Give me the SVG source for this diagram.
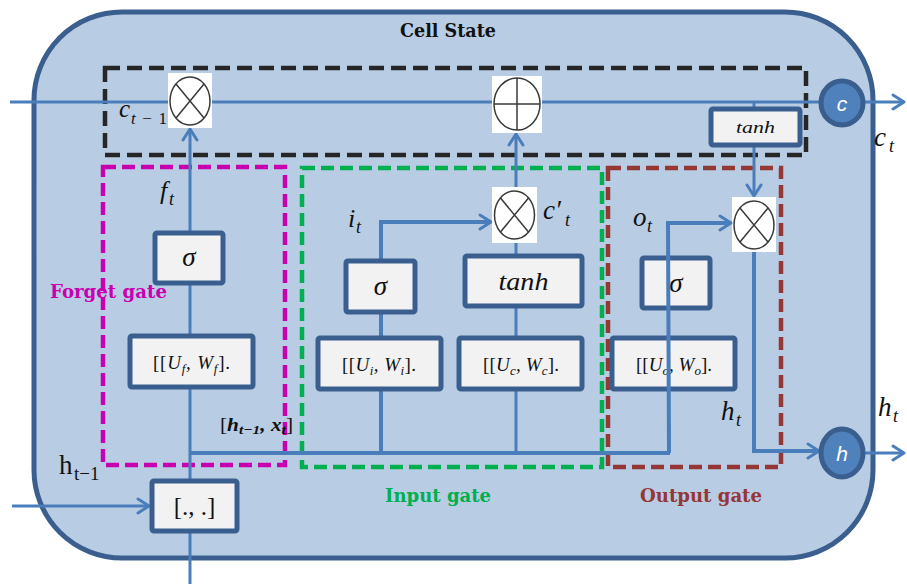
<svg xmlns="http://www.w3.org/2000/svg" width="907" height="584" viewBox="0 0 907 584">
  <style>
    .wire { fill: none; stroke: #4A7EBB; stroke-width: 3; }
    .thick { stroke-width: 4; }
    .box { fill: #F2F2F2; stroke: #3A5F8F; stroke-width: 5; }
    .opbg { fill: #FFFFFF; }
    .op { fill: none; stroke: #3A3A3A; stroke-width: 1.5; }
    .math { font-family: "Liberation Serif", "DejaVu Serif", serif; font-style: italic; fill: #111; }
    .up { font-style: normal; }
    .lbl { font-family: "DejaVu Serif", "Liberation Serif", serif; font-weight: bold; }
    .node { fill: #4F81BD; stroke: #3A5F8F; stroke-width: 5; }
    .dash { fill: none; stroke-width: 4.5; }
  </style>
  <defs>
    <marker id="arrow" markerUnits="userSpaceOnUse" markerWidth="16" markerHeight="18" viewBox="0 0 16 18" refX="13" refY="9" orient="auto">
      <path d="M2,2 L13,9 L2,16" fill="none" stroke="#4A7EBB" stroke-width="3" stroke-linecap="round" stroke-linejoin="round"/>
    </marker>
  </defs>

  <!-- LSTM cell body -->
  <g id="cell">
    <rect x="34" y="12" width="839" height="546" rx="88" ry="88" fill="#B8CCE4" stroke="#3A5F8F" stroke-width="5"/>
    <text class="lbl" x="448" y="37" font-size="19" text-anchor="middle" textLength="96" lengthAdjust="spacingAndGlyphs" fill="#111">Cell State</text>
  </g>

  <!-- gate regions -->
  <g id="cell-state-region">
    <rect class="dash" x="105" y="68" width="701" height="87" stroke="#262626" stroke-dasharray="15 7"/>
  </g>
  <g id="forget-gate">
    <rect class="dash" x="103" y="167" width="182" height="298" stroke="#C800B0" stroke-dasharray="13 6"/>
    <text class="lbl" x="50" y="298" font-size="18" textLength="117" lengthAdjust="spacingAndGlyphs" fill="#C800B0">Forget gate</text>
  </g>
  <g id="input-gate">
    <rect class="dash" x="302" y="168" width="300" height="299" stroke="#00B050" stroke-dasharray="13 6"/>
    <text class="lbl" x="385" y="502" font-size="18" textLength="106" lengthAdjust="spacingAndGlyphs" fill="#00B050">Input gate</text>
  </g>
  <g id="output-gate">
    <rect class="dash" x="608" y="168" width="173" height="299" stroke="#953735" stroke-dasharray="13 6"/>
    <text class="lbl" x="640" y="502" font-size="18" textLength="122" lengthAdjust="spacingAndGlyphs" fill="#953735">Output gate</text>
  </g>

  <!-- connectors behind the blocks -->
  <g id="connectors">
    <!-- cell state line -->
    <line class="wire" x1="10" y1="102" x2="822" y2="102"/>
    <line class="wire" x1="864" y1="102" x2="904" y2="102" marker-end="url(#arrow)"/>
    <!-- cell state to tanh and output product -->
    <line class="wire" x1="754" y1="102" x2="754" y2="110"/>
    <line class="wire" x1="754" y1="146" x2="754" y2="196" marker-end="url(#arrow)"/>
    <!-- forget path -->
    <line class="wire" x1="190" y1="480" x2="190" y2="129" marker-end="url(#arrow)"/>
    <!-- shared bus -->
    <line class="wire thick" x1="190" y1="453" x2="670" y2="453"/>
    <!-- input gate path -->
    <polyline class="wire thick" points="381,453 381,222 491,222" marker-end="url(#arrow)"/>
    <!-- candidate path -->
    <line class="wire" x1="516" y1="453" x2="516" y2="134" marker-end="url(#arrow)"/>
    <!-- hidden state out -->
    <polyline class="wire thick" points="754,252 754,451 819,451" marker-end="url(#arrow)"/>
    <line class="wire" x1="864" y1="453" x2="904" y2="453" marker-end="url(#arrow)"/>
    <!-- previous hidden state and input -->
    <line class="wire" x1="12" y1="506" x2="149" y2="506" marker-end="url(#arrow)"/>
    <line class="wire" x1="190" y1="532" x2="190" y2="584"/>
  </g>

  <!-- pointwise operators -->
  <g id="mul-forget">
    <rect class="opbg" x="168" y="73" width="44" height="55"/>
    <ellipse class="op" cx="190" cy="101" rx="20" ry="24"/>
    <path class="op" d="M176,84 L204,118 M204,84 L176,118"/>
  </g>
  <g id="add-cell">
    <rect class="opbg" x="492" y="76" width="50" height="57"/>
    <ellipse class="op" cx="517" cy="104" rx="23" ry="26"/>
    <path class="op" d="M517,78 L517,130 M494,104 L540,104"/>
  </g>
  <g id="mul-input">
    <rect class="opbg" x="492" y="187" width="45" height="56"/>
    <ellipse class="op" cx="514.5" cy="215" rx="20" ry="24"/>
    <path class="op" d="M500.5,198 L528.5,232 M528.5,198 L500.5,232"/>
  </g>
  <g id="mul-output">
    <rect class="opbg" x="732" y="197" width="44" height="55"/>
    <ellipse class="op" cx="754" cy="225" rx="20" ry="24"/>
    <path class="op" d="M740,208 L768,242 M768,208 L740,242"/>
  </g>

  <!-- state nodes -->
  <g id="node-c">
    <ellipse class="node" cx="842" cy="103" rx="21" ry="22"/>
    <text x="842" y="111" font-family="Liberation Sans, Arial, sans-serif" font-style="italic" font-size="21" fill="#FFFFFF" text-anchor="middle">c</text>
  </g>
  <g id="node-h">
    <ellipse class="node" cx="842" cy="453" rx="21" ry="24"/>
    <text x="842" y="461" font-family="Liberation Sans, Arial, sans-serif" font-style="italic" font-size="21" fill="#FFFFFF" text-anchor="middle">h</text>
  </g>

  <!-- function blocks -->
  <g id="tanh-cell">
    <rect class="box" x="711" y="109" width="89" height="36" rx="2" stroke-width="4.5"/>
    <text class="math" x="755.5" y="133" font-size="17" text-anchor="middle" textLength="39" lengthAdjust="spacingAndGlyphs">tanh</text>
  </g>
  <g id="sigma-forget">
    <rect class="box" x="155" y="233" width="68" height="50" rx="2"/>
    <text class="math" x="189" y="266" font-size="27" text-anchor="middle">σ</text>
  </g>
  <g id="weights-forget">
    <rect class="box" x="130" y="336" width="123" height="51" rx="2"/>
    <text class="math" x="153" y="369" font-size="19" textLength="77" lengthAdjust="spacing"><tspan class="up">[[</tspan>U<tspan font-size="13" dy="4">f</tspan><tspan dy="-4">, W</tspan><tspan font-size="13" dy="4">f</tspan><tspan class="up" dy="-4">].</tspan></text>
  </g>
  <g id="sigma-input">
    <rect class="box" x="346" y="261" width="69" height="51" rx="2"/>
    <text class="math" x="380.5" y="295" font-size="27" text-anchor="middle">σ</text>
  </g>
  <g id="weights-input">
    <rect class="box" x="318" y="338" width="123" height="51" rx="2"/>
    <text class="math" x="342" y="371" font-size="19" textLength="74" lengthAdjust="spacing"><tspan class="up">[[</tspan>U<tspan font-size="13" dy="4">i</tspan><tspan dy="-4">, W</tspan><tspan font-size="13" dy="4">i</tspan><tspan class="up" dy="-4">].</tspan></text>
  </g>
  <g id="tanh-input">
    <rect class="box" x="465" y="256" width="117" height="50" rx="2"/>
    <text class="math" x="523.5" y="290" font-size="26" text-anchor="middle" textLength="50" lengthAdjust="spacingAndGlyphs">tanh</text>
  </g>
  <g id="weights-candidate">
    <rect class="box" x="459" y="338" width="123" height="51" rx="2"/>
    <text class="math" x="483" y="371" font-size="19" textLength="76" lengthAdjust="spacing"><tspan class="up">[[</tspan>U<tspan font-size="13" dy="4">c</tspan><tspan dy="-4">, W</tspan><tspan font-size="13" dy="4">c</tspan><tspan class="up" dy="-4">].</tspan></text>
  </g>
  <g id="sigma-output">
    <rect class="box" x="642" y="258" width="68" height="50" rx="2"/>
    <text class="math" x="676" y="292" font-size="27" text-anchor="middle">σ</text>
  </g>
  <g id="weights-output">
    <rect class="box" x="612" y="338" width="123" height="51" rx="2"/>
    <text class="math" x="636" y="371" font-size="19" textLength="76" lengthAdjust="spacing"><tspan class="up">[[</tspan>U<tspan font-size="13" dy="4">o</tspan><tspan dy="-4">, W</tspan><tspan font-size="13" dy="4">o</tspan><tspan class="up" dy="-4">].</tspan></text>
  </g>
  <g id="concat">
    <rect class="box" x="152" y="481" width="85" height="50" rx="2"/>
    <text x="194.5" y="515" font-family="Liberation Serif, serif" font-size="25" text-anchor="middle" fill="#111">[., .]</text>
  </g>

  <!-- output gate line runs over its blocks -->
  <g id="connectors-front">
    <polyline class="wire thick" points="669,453 668,223 731,223" marker-end="url(#arrow)"/>
  </g>

  <!-- variable labels -->
  <g id="labels">
    <text class="math" x="119" y="117" font-size="25">c</text>
    <text class="math" x="131" y="124" font-size="17" textLength="36" lengthAdjust="spacing">t<tspan class="up">−1</tspan></text>
    <text class="math" x="160" y="199" font-size="26">f</text>
    <text class="math" x="169" y="205" font-size="18">t</text>
    <text class="math" x="348" y="227" font-size="26">i</text>
    <text class="math" x="356" y="233" font-size="18">t</text>
    <text class="math" x="543" y="219" font-size="27">c′</text>
    <text class="math" x="565" y="226" font-size="18">t</text>
    <text class="math" x="633" y="226" font-size="27">o</text>
    <text class="math" x="647" y="232" font-size="18">t</text>
    <text class="math" x="721" y="420" font-size="27">h</text>
    <text class="math" x="736" y="426" font-size="18">t</text>
    <text class="math" x="878" y="416" font-size="27">h</text>
    <text class="math" x="893" y="422" font-size="18">t</text>
    <text class="math" x="874" y="146" font-size="27">c</text>
    <text class="math" x="889" y="152" font-size="18">t</text>
    <text class="math" x="220" y="431" font-size="18" font-weight="bold" textLength="73" lengthAdjust="spacingAndGlyphs"><tspan class="up" font-weight="normal">[</tspan>h<tspan font-size="13" dy="3">t−1</tspan><tspan dy="-3">, x</tspan><tspan font-size="13" dy="3">t</tspan><tspan class="up" font-weight="normal" dy="-3">]</tspan></text>
    <text x="59" y="474" font-family="Liberation Serif, serif" font-size="27" fill="#111">h</text>
    <text x="74" y="480" font-family="Liberation Serif, serif" font-size="19" fill="#111">t−1</text>
  </g>
</svg>
